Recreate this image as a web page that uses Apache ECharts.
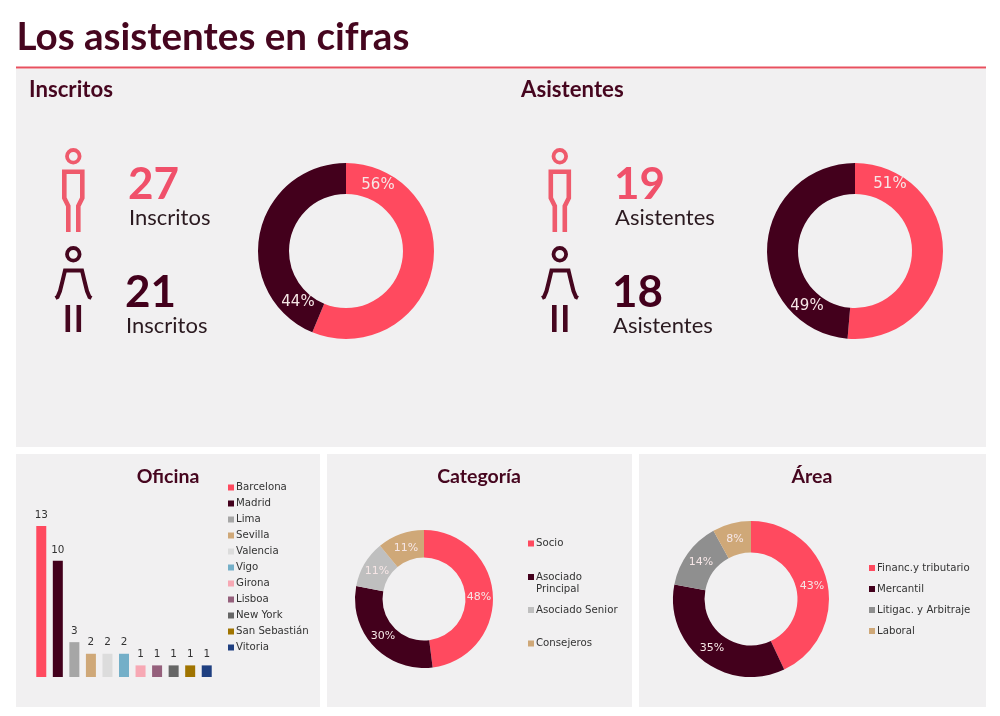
<!DOCTYPE html>
<html><head><meta charset="utf-8"><style>html,body{margin:0;padding:0;background:#fff}#c{width:1000px;height:716px}</style>
<script src="https://cdn.jsdelivr.net/npm/echarts@6/dist/echarts.min.js"></script></head>
<body><div id="c"></div><script>
const PINK='#ff4a5f',DARK='#43001c',HEAD='#46061f';
const genderNames=['Hombres','Mujeres'];
const inscritos=[27,21];
const asistentes=[19,18];
const oficinas=['Barcelona','Madrid','Lima','Sevilla','Valencia','Vigo','Girona','Lisboa','New York','San Sebastián','Vitoria'];
const oficinaValues=[13,10,3,2,2,2,1,1,1,1,1];
const oficinaColors=[PINK,DARK,'#a6a6a6','#cfa878','#dcdcdc','#74afc8','#f7a8b4','#95607c','#666666','#a07400','#1f3f80'];
const categorias=['Socio','Asociado Principal','Asociado Senior','Consejeros'];
const categoriaValues=[48,30,11,11];
const categoriaColors=[PINK,DARK,'#bfbfbf','#cfa878'];
const areas=['Financ.y tributario','Mercantil','Litigac. y Arbitraje','Laboral'];
const areaValues=[43,35,14,8];
const areaColors=[PINK,DARK,'#8f8f8f','#cfa878'];

const HF='Lato, "Noto Sans", sans-serif', LF='"DejaVu Sans", Verdana, sans-serif';
const g=[];
[[16,69,970,378],[16,454,304,253],[327,454,305,253],[639,454,347,253]].forEach(r=>g.push({type:'rect',z:-1,shape:{x:r[0],y:r[1],width:r[2],height:r[3]},style:{fill:'#f1f0f1'}}));
g.push({type:'rect',z:0,shape:{x:16,y:66.5,width:970,height:2},style:{fill:'#e8505f'}});
function txt(t,x,y,size,weight,fill,align){g.push({type:'text',z:1,style:{text:t,x,y,font:`${weight} ${size}px ${HF}`,fill,textAlign:align||'left',textVerticalAlign:'middle'}});}
txt('Los asistentes en cifras',16.5,38,38.6,700,HEAD);
txt('Inscritos',29,90,22.2,700,HEAD);
txt('Asistentes',521,90,22.2,700,HEAD);
txt('Oficina',168,477,19.5,700,HEAD,'center');
txt('Categoría',479,477,19.5,700,HEAD,'center');
txt('Área',812,477,19.5,700,HEAD,'center');
function poly(pts,dx,c,w){g.push({type:'polyline',z:1,shape:{points:pts.map(p=>[p[0]+dx,p[1]])},style:{fill:'none',stroke:c,lineWidth:w}});}
function male(dx,c){
  g.push({type:'circle',z:1,shape:{cx:73.3+dx,cy:156.3,r:6.3},style:{fill:'none',stroke:c,lineWidth:3.8}});
  poly([[68.3,232],[68.3,206],[64.3,198],[64.3,171.7],[82.3,171.7],[82.3,198],[78.3,206],[78.3,232]],dx,c,4.6);
}
function female(dx,c){
  g.push({type:'circle',z:1,shape:{cx:73.3+dx,cy:254.3,r:6.3},style:{fill:'none',stroke:c,lineWidth:3.8}});
  poly([[55.5,298],[57.5,297],[60,291],[62.5,281],[65,270.5],[82,270.5],[84.5,281],[87,291],[89.5,297],[91.5,298]],dx,c,4);
  poly([[67.8,305],[67.8,332]],dx,c,4.6);
  poly([[78.8,305],[78.8,332]],dx,c,4.6);
}
male(0,'#ef5a6c');female(0,HEAD);male(486.5,'#ef5a6c');female(486.5,HEAD);
function kpi(v,label,x,y,c){txt(String(v),x,y,44,700,c);txt(label,x+1,y+33,22,400,'#2b1a20');}
kpi(inscritos[0],'Inscritos',128,185,'#f0506a');
kpi(inscritos[1],'Inscritos',125,293,DARK);
kpi(asistentes[0],'Asistentes',614,185,'#f0506a');
kpi(asistentes[1],'Asistentes',612,293,DARK);

function pie(names,vals,cols,c,r,labels,size){
  return {type:'pie',animation:false,silent:true,startAngle:90,clockwise:true,center:c,radius:r,percentPrecision:0,
    data:names.map((n,i)=>({name:n,value:vals[i],itemStyle:{color:cols[i]}})),
    label:{show:true,position:'inside',formatter:'{d}%',color:'#f6e6e6',fontFamily:LF,fontSize:size},
    labelLine:{show:false},
    labelLayout:p=>({x:labels[p.dataIndex][0],y:labels[p.dataIndex][1],align:'center',verticalAlign:'middle'})};
}
const series=[
  pie(genderNames,inscritos,[PINK,DARK],[346,251],[57,88],[[378,185.5],[298,302.5]],15),
  pie(genderNames,asistentes,[PINK,DARK],[855,251],[57,88],[[890,184.5],[807,306.5]],15),
  pie(categorias,categoriaValues,categoriaColors,[424,599],[41.5,69],[[479,597.5],[383,636.5],[377,571],[406,548]],11),
  pie(areas,areaValues,areaColors,[751,599],[46.5,78],[[812,586.5],[712,648.5],[701,562.5],[735,539]],11)
];
oficinas.forEach((n,i)=>series.push({type:'bar',name:n,stack:'o',barWidth:10,animation:false,silent:true,xAxisIndex:0,yAxisIndex:0,
  data:oficinas.map((_,j)=>j===i?oficinaValues[i]:null),itemStyle:{color:oficinaColors[i]},
  label:{show:true,position:'top',distance:6,color:'#333',fontFamily:LF,fontSize:10.4}}));

const ls={color:'#333',fontFamily:LF,fontSize:10.2,lineHeight:12,padding:[0,0,0,-3]};
function leg(names,left,top,gap,fmt){return {data:names,orient:'vertical',left,top,padding:0,itemGap:gap,itemWidth:6,itemHeight:6,icon:'rect',itemStyle:{borderWidth:0},selectedMode:false,textStyle:ls,formatter:fmt};}
const legends=[
  leg(oficinas,228,481.5,4),
  leg([categorias[0]],528,537.5,0),
  leg([categorias[1]],528,559,0,()=>' \nAsociado\nPrincipal'),
  leg([categorias[2]],528,604,0),
  leg([categorias[3]],528,637.5,0),
  leg([areas[0]],869,562,0),leg([areas[1]],869,583,0),leg([areas[2]],869,604,0),leg([areas[3]],869,625,0)
];
const chart=echarts.init(document.getElementById('c'),null,{renderer:'canvas'});
chart.setOption({animation:false,backgroundColor:'#fff',graphic:g,legend:legends,tooltip:{show:false},
  grid:{left:33,top:526,width:182,height:151,containLabel:false},
  xAxis:{type:'category',data:oficinas,show:false},
  yAxis:{type:'value',min:0,max:13,show:false},
  series});
</script></body></html>
